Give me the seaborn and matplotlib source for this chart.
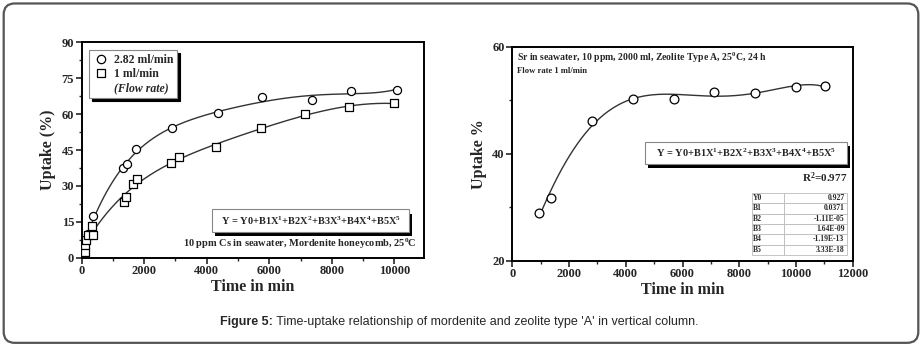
import numpy as np
import pandas as pd
import matplotlib
matplotlib.use("Agg")
import matplotlib.pyplot as plt
from matplotlib.patches import FancyBboxPatch, Rectangle
from matplotlib.lines import Line2D
from matplotlib.ticker import MultipleLocator
import seaborn as sns

# ---- Mordenite honeycomb, Cs uptake ----
t_fast = [60, 120, 200, 360, 1330, 1440, 1750, 2880, 4350, 5780, 7360, 8620, 10080]
u_fast = [5.5, 7.0, 10.0, 17.4, 37.5, 39.0, 45.5, 54.0, 60.3, 67.0, 65.8, 69.6, 70.2]
t_slow = [95, 110, 150, 200, 330, 360, 1350, 1420, 1650, 1760, 2850, 3100, 4300, 5740, 7150, 8560, 10000]
u_slow = [2.5, 5.5, 7.4, 9.5, 13.2, 9.5, 23.1, 25.5, 30.8, 32.9, 39.4, 41.9, 46.4, 54.1, 59.9, 63.1, 64.5]
flow_labels = ["2.82 ml/min", "1 ml/min"]

# ---- Zeolite type A, Sr uptake ----
t_sr = [940, 1360, 2810, 4240, 5700, 7120, 8570, 10010, 11020]
u_sr = [29.0, 31.7, 46.2, 50.2, 50.2, 51.5, 51.3, 52.5, 52.6]
coef_names = ["Y0", "B1", "B2", "B3", "B4", "B5"]
coef_values = ["0.927", "0.0371", "-1.11E-05", "1.64E-09", "-1.19E-13", "3.33E-18"]
r2_text = "R$^2$=0.977"

SERIF = ["Liberation Serif", "DejaVu Serif"]
sns.set_style("ticks")
plt.rcParams["font.family"] = SERIF
plt.rcParams["font.weight"] = "bold"
plt.rcParams["mathtext.fontset"] = "custom"
plt.rcParams["mathtext.rm"] = "Liberation Serif:bold"
plt.rcParams["mathtext.default"] = "rm"

fig = plt.figure(figsize=(9.22, 3.47), dpi=100)
fig.patch.set_facecolor("white")

# outer rounded frame
frame = FancyBboxPatch((0.004, 0.012), 0.992, 0.978, boxstyle="round,pad=0,rounding_size=0.012",
                       transform=fig.transFigure, fill=False, edgecolor="#555555", linewidth=1.6,
                       mutation_aspect=922 / 347)
fig.patches.append(frame)

ax1 = fig.add_axes([0.0886, 0.2573, 0.3713, 0.6207])
ax2 = fig.add_axes([0.5557, 0.2487, 0.3692, 0.6167])


def style_axes(ax, xmaj, xmin_, ymaj, ymin_):
    for s in ax.spines.values():
        s.set_visible(True)
        s.set_linewidth(1.4)
        s.set_color("black")
    ax.xaxis.set_major_locator(MultipleLocator(xmaj))
    ax.xaxis.set_minor_locator(MultipleLocator(xmin_))
    ax.yaxis.set_major_locator(MultipleLocator(ymaj))
    ax.yaxis.set_minor_locator(MultipleLocator(ymin_))
    ax.tick_params(which="major", direction="out", length=4, width=1.2, labelsize=9, pad=1.5)
    ax.tick_params(which="minor", direction="out", length=2.5, width=1.0)
    for lab in ax.get_xticklabels() + ax.get_yticklabels():
        lab.set_fontweight("bold")


def eq_box(ax, x0, y0, w, h, text, fs):
    sh = Rectangle((x0 + 0.008, y0 - 0.02), w, h, transform=ax.transAxes, facecolor="black",
                   edgecolor="none", zorder=4)
    bx = Rectangle((x0, y0), w, h, transform=ax.transAxes, facecolor="white",
                   edgecolor="#888888", linewidth=0.8, zorder=5)
    ax.add_patch(sh)
    ax.add_patch(bx)
    ax.text(x0 + w / 2, y0 + h / 2, text, transform=ax.transAxes, ha="center", va="center",
            fontsize=fs, fontweight="bold", zorder=6)


eq_text = "Y = Y0+B1X$^1$+B2X$^2$+B3X$^3$+B4X$^4$+B5X$^5$"

# ---- left panel ----
df_fast = pd.DataFrame({"t": t_fast, "u": u_fast})
df_slow = pd.DataFrame({"t": t_slow, "u": u_slow})
for df, mk in [(df_fast, "o"), (df_slow, "s")]:
    p = np.polyfit(df["t"], df["u"], 5)
    xs = np.linspace(0, df["t"].max(), 300)
    sns.lineplot(x=xs, y=np.polyval(p, xs), ax=ax1, color="#333333", linewidth=1.0, zorder=2)
    sns.scatterplot(data=df, x="t", y="u", ax=ax1, marker=mk, s=34, facecolor="white",
                    edgecolor="black", linewidth=0.9, zorder=3)
ax1.set_xlim(0, 10950)
ax1.set_ylim(0, 90)
style_axes(ax1, 2000, 1000, 15, 7.5)
ax1.set_xlabel("Time in min", fontsize=11.5, fontweight="bold", labelpad=1)
ax1.set_ylabel("Uptake (%)", fontsize=11.5, fontweight="bold", labelpad=4)

handles = [Line2D([], [], marker="o", ls="none", mfc="white", mec="black", ms=6, mew=0.9),
           Line2D([], [], marker="s", ls="none", mfc="white", mec="black", ms=5.5, mew=0.9),
           Line2D([], [], ls="none")]
leg = ax1.legend(handles, flow_labels + ["(Flow rate)"], loc="upper left",
                 bbox_to_anchor=(0.004, 0.99), fontsize=8.5, frameon=True, fancybox=False,
                 shadow={"color": "black", "alpha": 1}, edgecolor="#888888",
                 handletextpad=0.4, borderpad=0.3, labelspacing=0.2, handlelength=1.4)
leg.get_frame().set_linewidth(0.8)
leg.get_texts()[2].set_fontstyle("italic")
eq_box(ax1, 0.381, 0.119, 0.575, 0.105, eq_text, 7.5)
ax1.text(0.978, 0.05, "10 ppm Cs in seawater, Mordenite honeycomb, 25$^0$C", transform=ax1.transAxes,
         ha="right", va="baseline", fontsize=7.5, fontweight="bold")

# ---- right panel ----
df_sr = pd.DataFrame({"t": t_sr, "u": u_sr})
p = np.polyfit(df_sr["t"], df_sr["u"], 5)
xs = np.linspace(df_sr["t"].min(), df_sr["t"].max(), 300)
sns.lineplot(x=xs, y=np.polyval(p, xs), ax=ax2, color="#333333", linewidth=1.0, zorder=2)
sns.scatterplot(data=df_sr, x="t", y="u", ax=ax2, marker="o", s=40, facecolor="white",
                edgecolor="black", linewidth=0.9, zorder=3)
ax2.set_xlim(0, 12000)
ax2.set_ylim(20, 60)
style_axes(ax2, 2000, 1000, 20, 10)
ax2.set_xlabel("Time in min", fontsize=11.5, fontweight="bold", labelpad=1)
ax2.set_ylabel("Uptake %", fontsize=11.5, fontweight="bold", labelpad=4)
ax2.text(0.015, 0.935, "Sr in seawater, 10 ppm, 2000 ml, Zeolite Type A, 25$^0$C, 24 h",
         transform=ax2.transAxes, ha="left", va="baseline", fontsize=7, fontweight="bold")
ax2.text(0.015, 0.875, "Flow rate 1 ml/min", transform=ax2.transAxes, ha="left", va="baseline",
         fontsize=6.2, fontweight="bold")
eq_box(ax2, 0.39, 0.452, 0.593, 0.103, eq_text, 7.5)
ax2.text(0.985, 0.37, r2_text, transform=ax2.transAxes, ha="right", va="baseline",
         fontsize=8, fontweight="bold")

tbl = ax2.table(cellText=[[n, v] for n, v in zip(coef_names, coef_values)],
                colWidths=[0.34, 0.66], cellLoc="left", bbox=[0.704, 0.027, 0.279, 0.29])
tbl.auto_set_font_size(False)
for (r, c), cell in tbl.get_celld().items():
    cell.set_edgecolor("#bbbbbb")
    cell.set_linewidth(0.6)
    cell.set_text_props(fontsize=5.5, fontweight="bold", family=SERIF)
    cell.PAD = 0.04
    if c == 1:
        cell.get_text().set_horizontalalignment("right")
        cell._loc = "right"
tbl.set_zorder(6)

# ---- caption ----
cap1 = fig.text(0.2385, 0.063, "Figure 5:", fontsize=9, fontweight="bold",
                family=["Liberation Sans", "DejaVu Sans"], ha="left", va="baseline")
fig.canvas.draw()
ann = plt.annotate(" Time-uptake relationship of mordenite and zeolite type 'A' in vertical column.",
                   xy=(1, 0), xycoords=cap1, ha="left", va="bottom", fontsize=9, fontweight="normal",
                   family=["Liberation Sans", "DejaVu Sans"], annotation_clip=False)

fig.savefig("out.png", dpi=100, facecolor="white")
